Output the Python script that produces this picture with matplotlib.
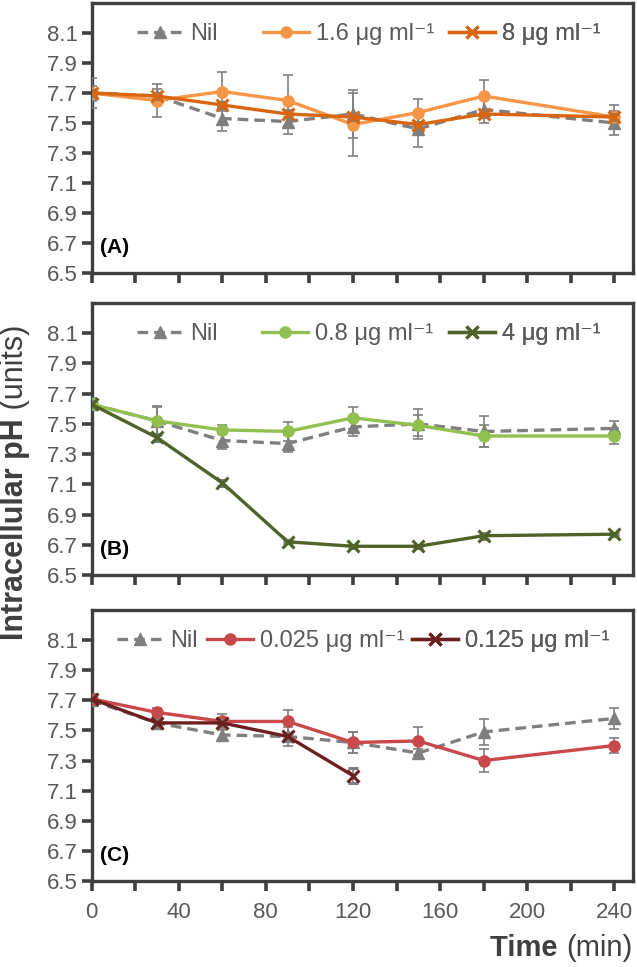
import matplotlib
matplotlib.use('Agg')
import matplotlib.pyplot as plt
from matplotlib.lines import Line2D

FAM = ['Liberation Sans', 'DejaVu Sans']
plt.rcParams['font.family'] = FAM

# ---------------- data ----------------
time = [0, 30, 60, 90, 120, 150, 180, 240]
time_short = [0, 30, 60, 90, 120]

# Panel A
labels_a = ['Nil', '1.6 μg ml⁻¹', '8 μg ml⁻¹']
nil_a = [7.70, 7.68, 7.53, 7.51, 7.56, 7.46, 7.59, 7.50]
nil_a_err = [0.05, 0.05, 0.08, 0.08, 0.16, 0.12, 0.09, 0.08]
low_a = [7.70, 7.65, 7.71, 7.65, 7.49, 7.57, 7.68, 7.54]
low_a_err = [0.10, 0.11, 0.13, 0.17, 0.21, 0.09, 0.11, 0.08]
high_a = [7.70, 7.68, 7.62, 7.56, 7.54, 7.49, 7.56, 7.54]
high_a_err = [0.02, 0.02, 0.02, 0.02, 0.02, 0.02, 0.02, 0.02]

# Panel B
labels_b = ['Nil', '0.8 μg ml⁻¹', '4 μg ml⁻¹']
nil_b = [7.63, 7.52, 7.39, 7.37, 7.48, 7.50, 7.45, 7.47]
nil_b_err = [0.04, 0.09, 0.055, 0.055, 0.06, 0.10, 0.10, 0.05]
low_b = [7.63, 7.52, 7.46, 7.45, 7.54, 7.49, 7.42, 7.42]
low_b_err = [0.04, 0.10, 0.03, 0.065, 0.075, 0.07, 0.075, 0.05]
high_b = [7.63, 7.41, 7.11, 6.72, 6.69, 6.69, 6.76, 6.77]
high_b_err = [0.02, 0.02, 0.02, 0.01, 0.01, 0.01, 0.02, 0.01]

# Panel C
labels_c = ['Nil', '0.025 μg ml⁻¹', '0.125 μg ml⁻¹']
nil_c = [7.70, 7.55, 7.47, 7.46, 7.42, 7.35, 7.49, 7.58]
nil_c_err = [0.03, 0.03, 0.03, 0.065, 0.07, 0.03, 0.085, 0.07]
low_c = [7.71, 7.62, 7.56, 7.56, 7.42, 7.43, 7.30, 7.40]
low_c_err = [0.03, 0.03, 0.05, 0.077, 0.07, 0.09, 0.075, 0.05]
high_c = [7.71, 7.55, 7.55, 7.46, 7.20]
high_c_err = [0.02, 0.02, 0.02, 0.02, 0.05]

y_ticks = [6.5, 6.7, 6.9, 7.1, 7.3, 7.5, 7.7, 7.9, 8.1]
x_ticks = [0, 20, 40, 60, 80, 100, 120, 140, 160, 180, 200, 220, 240]
x_ticklabels = ['0', '', '40', '', '80', '', '120', '', '160', '', '200', '', '240']
panel_letters = ['(A)', '(B)', '(C)']

# ---------------- style ----------------
GRAY = '#7f7f7f'
SPINE = '#3f3f3f'
TICKTXT = '#595959'
colors = {
    'A': ('#f79646', '#d9660f'),
    'B': ('#92c050', '#4f6228'),
    'C': ('#c9484a', '#6b1f1f'),
}

W, H = 637, 967
fig = plt.figure(figsize=(W / 100, H / 100), dpi=100)
left = 91.5 / W
width = 541.5 / W
panel_px = [(3, 273), (303, 575), (610, 881)]
legend_x = {
    'A': (0.084, 0.317, 0.660),
    'B': (0.084, 0.315, 0.660),
    'C': (0.047, 0.213, 0.592),
}

panels = [
    ('A', labels_a, (time, nil_a, nil_a_err), (time, low_a, low_a_err), (time, high_a, high_a_err)),
    ('B', labels_b, (time, nil_b, nil_b_err), (time, low_b, low_b_err), (time, high_b, high_b_err)),
    ('C', labels_c, (time, nil_c, nil_c_err), (time, low_c, low_c_err), (time_short, high_c, high_c_err)),
]

LW = 2.4
for i, (key, labs, nil, low, high) in enumerate(panels):
    top, bot = panel_px[i]
    ax = fig.add_axes([left, 1 - bot / H, width, (bot - top) / H])
    c_low, c_high = colors[key]

    ebkw = dict(ecolor=GRAY, elinewidth=1.2, capsize=3.5, capthick=1.2)
    nil_style = dict(color=GRAY, ls=(0, (3.2, 1.8)), lw=LW, marker='^', ms=8, mec=GRAY, mfc=GRAY)
    low_style = dict(color=c_low, ls='-', lw=LW, marker='o', ms=8, mec=c_low, mfc=c_low)
    high_style = dict(color=c_high, ls='-', lw=LW, marker='x', ms=8, mew=2.2, mec=c_high)

    ax.errorbar(nil[0], nil[1], yerr=nil[2], zorder=3, **nil_style, **ebkw)
    ax.errorbar(low[0], low[1], yerr=low[2], zorder=4, **low_style, **ebkw)
    ax.errorbar(high[0], high[1], yerr=high[2], zorder=5, **high_style, **ebkw)

    ax.set_xlim(0, 248.5)
    ax.set_ylim(6.5, 8.3)
    ax.set_yticks(y_ticks)
    ax.set_yticklabels([f'{v:.1f}' for v in y_ticks], fontsize=16, color=TICKTXT)
    ax.set_xticks(x_ticks)
    if i == 2:
        ax.set_xticklabels(x_ticklabels, fontsize=16, color=TICKTXT)
    else:
        ax.set_xticklabels([''] * len(x_ticks))
    ax.tick_params(axis='both', direction='out', length=7, width=2.6, color=SPINE)
    ax.tick_params(axis='x', pad=8)
    ax.tick_params(axis='y', pad=3)
    for s in ax.spines.values():
        s.set_color(SPINE)
        s.set_linewidth(2.4)

    ax.text(0.016, 0.095, panel_letters[i], transform=ax.transAxes, fontsize=15,
            fontweight='bold', ha='left', va='center', color='black')

    handles = [Line2D([], [], **nil_style), Line2D([], [], **low_style), Line2D([], [], **high_style)]
    for h, lab, lx in zip(handles, labs, legend_x[key]):
        leg = ax.legend([h], [lab], loc='center left', bbox_to_anchor=(lx, 0.885),
                        frameon=False, fontsize=17, handlelength=1.95, handletextpad=0.3,
                        borderaxespad=0, borderpad=0, numpoints=1)
        leg.get_texts()[0].set_color(TICKTXT)
        ax.add_artist(leg)

# y label: bold + regular parts
fig.canvas.draw()
r = fig.canvas.get_renderer()
ycen = 1 - 482 / H
t1 = fig.text(15 / W, 0, 'Intracellular pH', rotation=90, fontsize=22, fontweight='bold',
              color=SPINE, ha='center', va='bottom')
t2 = fig.text(15 / W, 0, ' (units)', rotation=90, fontsize=22, color=SPINE,
              ha='center', va='bottom')
h1 = t1.get_window_extent(r).height / H
h2 = t2.get_window_extent(r).height / H
y0 = ycen - (h1 + h2) / 2
t1.set_y(y0)
t2.set_y(y0 + h1)

# x label: bold + regular parts, right aligned
xt2 = fig.text(632 / W, 1 - 948 / H, '(min)', fontsize=21, color=SPINE, ha='right', va='center')
fig.canvas.draw()
w2 = xt2.get_window_extent(r).width / W
xt1 = fig.text(632 / W - w2, 1 - 948 / H, 'Time ', fontsize=21, fontweight='bold',
               color=SPINE, ha='right', va='center')

fig.savefig('out.png', dpi=100)
